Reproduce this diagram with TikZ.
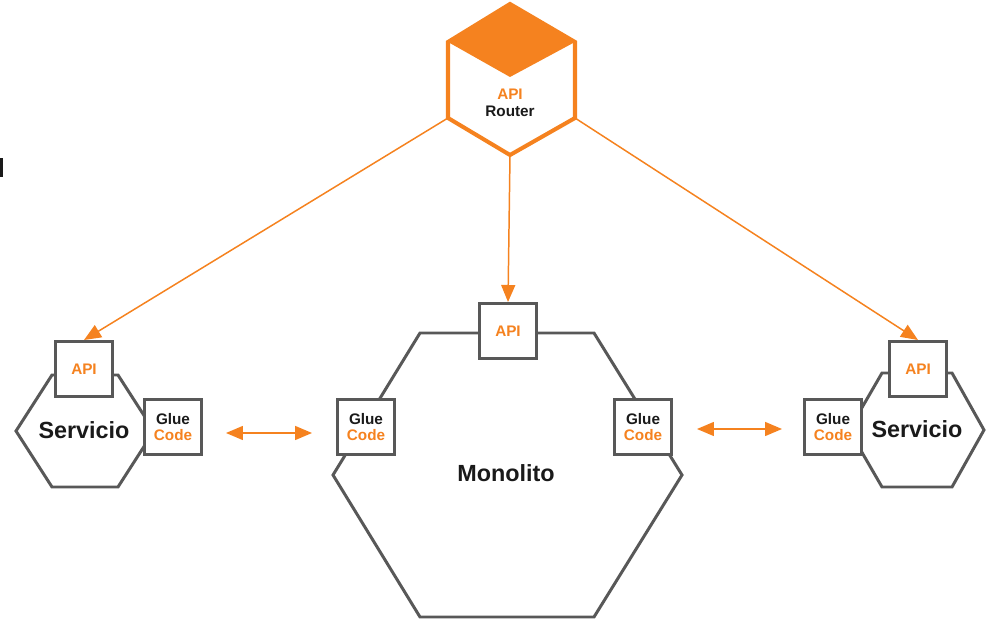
\documentclass[tikz,border=0pt]{standalone}
\usepackage{fontspec}
\setmainfont{Liberation Sans}
\usepackage{tikz}
\usetikzlibrary{arrows.meta}
\usetikzlibrary{positioning}
\definecolor{apiorange}{RGB}{245,130,31}
\definecolor{boxgray}{RGB}{88,88,88}
\definecolor{txtblack}{RGB}{26,26,26}
\tikzset{>={Triangle[length=0.34cm, width=0.28cm]}}
\tikzstyle{box} = [rectangle, draw = boxgray, line width = 1.7pt, fill = white, minimum width = 1.14cm, minimum height = 1.1cm, inner sep = 1, align = center, font = \fontsize{8.7}{9.6}\selectfont\bfseries, text = txtblack]
\tikzstyle{hexa} = [draw = boxgray, line width = 1.7pt, fill = white]
\tikzstyle{big} = [draw = none, inner sep = 1, font = \fontsize{13.3}{15}\selectfont\bfseries, text = txtblack]
\tikzstyle{link} = [->, draw = apiorange, line width = 0.85pt]
\tikzstyle{glue} = [<->, draw = apiorange, line width = 0.85pt]

\begin{document}
\begin{tikzpicture}[x = 0.02cm, y = -0.02cm]
\useasboundingbox (0,0) rectangle (994,621);
% cut letter on the left margin
\fill [txtblack] (0,158) rectangle (3,177);

% router
\fill [apiorange] (510,4) -- (575,42) -- (510,77) -- (448,42) -- cycle;
\draw [draw = apiorange, line width = 2.3pt] (510,4) -- (575,42) -- (575,118) -- (510,155) -- (448,118) -- (448,42) -- cycle;
\coordinate (rl) at (448,118);
\coordinate (rb) at (510,155);
\coordinate (rr) at (575,118);
\node [draw = none, inner sep = 1, align = center, font = \fontsize{8.7}{9.6}\selectfont\bfseries, text = txtblack] (router) at (510,103) {\textcolor{apiorange}{API}\\Router};

% hexagons
\draw [hexa] (16,431) -- (52,375) -- (118,375) -- (154,431) -- (118,487) -- (52,487) -- cycle;
\draw [hexa] (333,475) -- (420,333) -- (594,333) -- (682,475) -- (594,617) -- (420,617) -- cycle;
\draw [hexa] (849,430) -- (882,373) -- (952,373) -- (984,430) -- (952,487) -- (882,487) -- cycle;

\node [big] (servL) at (84,430) {Servicio};
\node [big] (mono) at (506,473) {Monolito};
\node [big] (servR) at (917,429) {Servicio};

% boxes
\node [box] (lapi) at (84,369) {\textcolor{apiorange}{API}};
\node [box] (lglue) at (173,427) {Glue\\\textcolor{apiorange}{Code}};
\node [box] (mapi) at (508,331) {\textcolor{apiorange}{API}};
\node [box] (mglue1) at (366,427) {Glue\\\textcolor{apiorange}{Code}};
\node [box] (mglue2) at (643,427) {Glue\\\textcolor{apiorange}{Code}};
\node [box] (rapi) at (918,369) {\textcolor{apiorange}{API}};
\node [box] (rglue) at (833,427) {Glue\\\textcolor{apiorange}{Code}};

% links
\draw [link] (rl) -- (lapi.north);
\draw [link] (rb) -- (mapi.north);
\draw [link] (rr) -- (rapi.north);
\draw [glue, shorten <= 0.46cm, shorten >= 0.48cm] ([yshift=-0.12cm]lglue.east) -- ([yshift=-0.12cm]mglue1.west);
\draw [glue, shorten <= 0.48cm, shorten >= 0.42cm] ([yshift=-0.04cm]mglue2.east) -- ([yshift=-0.04cm]rglue.west);
\end{tikzpicture}
\end{document}
